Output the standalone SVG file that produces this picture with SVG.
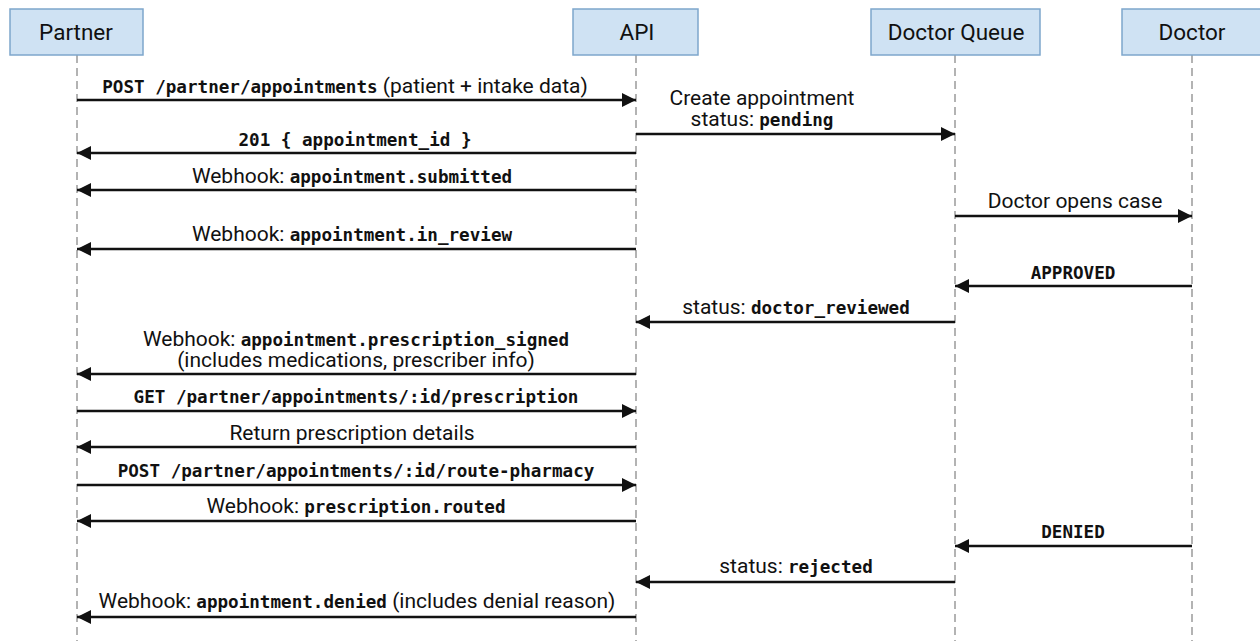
<svg xmlns="http://www.w3.org/2000/svg" width="1260" height="641" viewBox="0 0 1260 641">
<style>
.box{fill:#cfe2f3;stroke:#7ea6cc;stroke-width:1.5}
.hdr{font-family:Roboto,"Liberation Sans",sans-serif;font-size:22.5px;fill:#111;text-anchor:middle}
.life{stroke:#9a9a9a;stroke-width:1.5;stroke-dasharray:8 5;fill:none}
.msg{stroke:#111;stroke-width:2.5;fill:none;marker-end:url(#ah)}
.lbl{font-family:Roboto,"Liberation Sans",sans-serif;font-size:21px;fill:#111;text-anchor:middle}
.m{font-family:"DejaVu Sans Mono","Liberation Mono",monospace;font-weight:bold;font-size:17.6px}
</style>
<defs>
<marker id="ah" markerUnits="userSpaceOnUse" markerWidth="16" markerHeight="16" refX="14" refY="7" orient="auto">
<path d="M0,0 L14,7 L0,14 z" fill="#111"/>
</marker>
</defs>
<rect width="1260" height="641" fill="#ffffff"/>
<g id="lifelines">
<line class="life" x1="77" y1="55" x2="77" y2="641"/>
<line class="life" x1="636" y1="55" x2="636" y2="641"/>
<line class="life" x1="955" y1="55" x2="955" y2="641"/>
<line class="life" x1="1192" y1="55" x2="1192" y2="641"/>
</g>
<g id="partner"><rect class="box" x="10" y="9" width="133" height="46"/><text class="hdr" x="76" y="40">Partner</text></g>
<g id="api"><rect class="box" x="573" y="9" width="125" height="46"/><text class="hdr" x="637" y="40">API</text></g>
<g id="doctor-queue"><rect class="box" x="871" y="9" width="169" height="46"/><text class="hdr" x="956" y="40">Doctor Queue</text></g>
<g id="doctor"><rect class="box" x="1122" y="9" width="140" height="46"/><text class="hdr" x="1192" y="40">Doctor</text></g>
<g id="connectors">
<line class="msg" x1="77" y1="100" x2="636" y2="100"/>
<text class="lbl" x="345" y="93"><tspan class="m">POST /partner/appointments</tspan> (patient + intake data)</text>
<line class="msg" x1="636" y1="134" x2="955" y2="134"/>
<text class="lbl"><tspan x="762" y="104.5">Create appointment</tspan><tspan x="762" y="126">status: <tspan class="m">pending</tspan></tspan></text>
<line class="msg" x1="636" y1="153" x2="77" y2="153"/>
<text class="lbl" x="355" y="146"><tspan class="m">201 { appointment_id }</tspan></text>
<line class="msg" x1="636" y1="190" x2="77" y2="190"/>
<text class="lbl" x="352" y="183">Webhook: <tspan class="m">appointment.submitted</tspan></text>
<line class="msg" x1="955" y1="216" x2="1192" y2="216"/>
<text class="lbl" x="1075" y="208">Doctor opens case</text>
<line class="msg" x1="636" y1="249" x2="77" y2="249"/>
<text class="lbl" x="352" y="241">Webhook: <tspan class="m">appointment.in_review</tspan></text>
<line class="msg" x1="1192" y1="286" x2="955" y2="286"/>
<text class="lbl" x="1073" y="279"><tspan class="m">APPROVED</tspan></text>
<line class="msg" x1="955" y1="322" x2="636" y2="322"/>
<text class="lbl" x="796" y="314">status: <tspan class="m">doctor_reviewed</tspan></text>
<line class="msg" x1="636" y1="374" x2="77" y2="374"/>
<text class="lbl"><tspan x="356" y="345.5">Webhook: <tspan class="m">appointment.prescription_signed</tspan></tspan><tspan x="356" y="367">(includes medications, prescriber info)</tspan></text>
<line class="msg" x1="77" y1="411" x2="636" y2="411"/>
<text class="lbl" x="356" y="403"><tspan class="m">GET /partner/appointments/:id/prescription</tspan></text>
<line class="msg" x1="636" y1="447" x2="77" y2="447"/>
<text class="lbl" x="352" y="440">Return prescription details</text>
<line class="msg" x1="77" y1="485" x2="636" y2="485"/>
<text class="lbl" x="356" y="477"><tspan class="m">POST /partner/appointments/:id/route-pharmacy</tspan></text>
<line class="msg" x1="636" y1="521" x2="77" y2="521"/>
<text class="lbl" x="356" y="513">Webhook: <tspan class="m">prescription.routed</tspan></text>
<line class="msg" x1="1192" y1="546" x2="955" y2="546"/>
<text class="lbl" x="1073" y="538"><tspan class="m">DENIED</tspan></text>
<line class="msg" x1="955" y1="582" x2="636" y2="582"/>
<text class="lbl" x="796" y="573">status: <tspan class="m">rejected</tspan></text>
<line class="msg" x1="636" y1="617" x2="77" y2="617"/>
<text class="lbl" x="357" y="608">Webhook: <tspan class="m">appointment.denied</tspan> (includes denial reason)</text>
</g>
</svg>
